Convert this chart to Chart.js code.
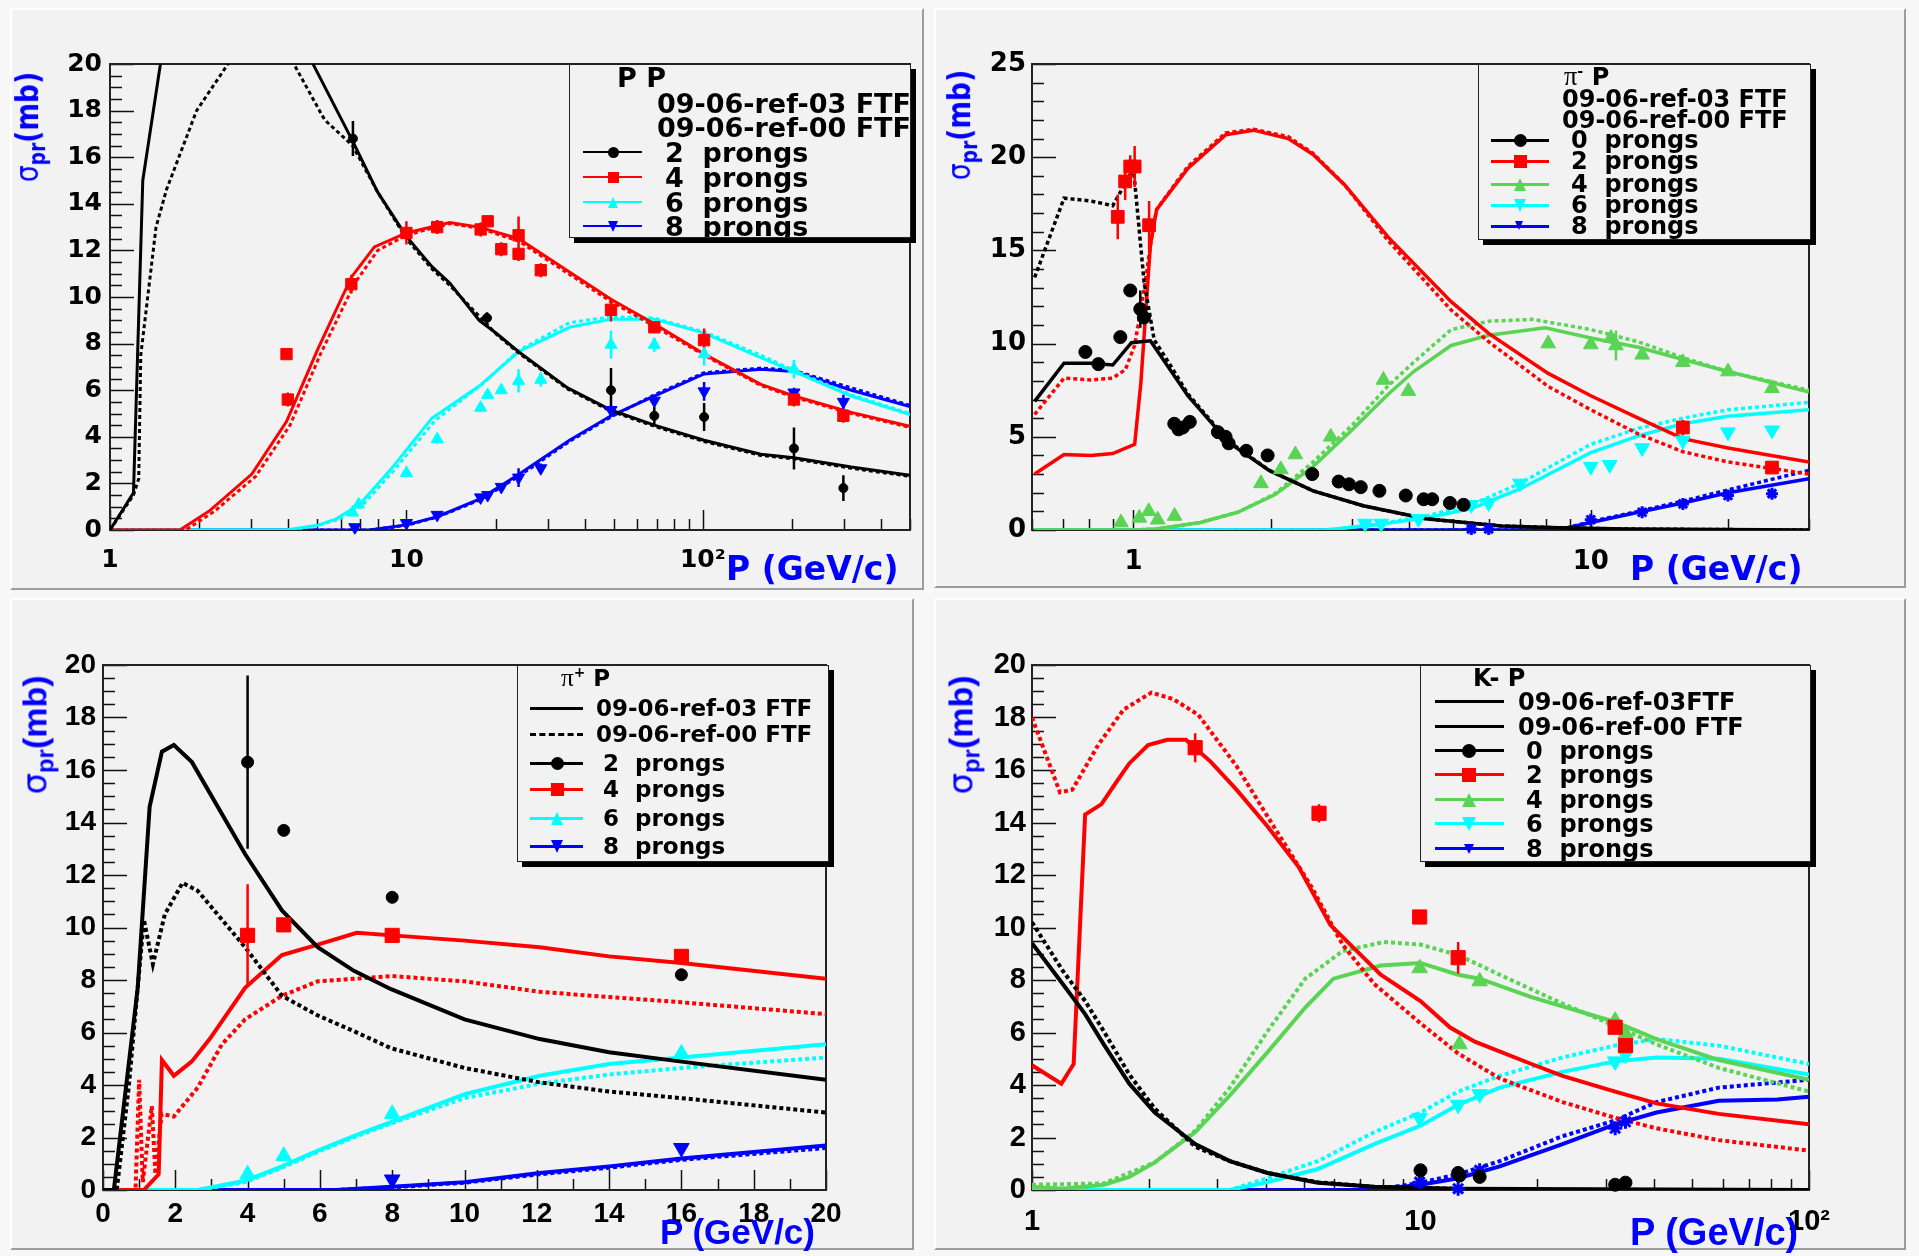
<!DOCTYPE html>
<html>
<head>
<meta charset="utf-8">
<script src="https://cdn.jsdelivr.net/npm/chart.js@4.4.1/dist/chart.umd.min.js"></script>
<style>
body { margin:0; width:1919px; height:1256px; background:#f7f7f7; position:relative; overflow:hidden; }
.pad { position:absolute; background:#f2f2f2; box-sizing:border-box;
       border-top:2px solid #fff; border-left:2px solid #fff; border-right:2px solid #9c9c9c; border-bottom:2px solid #9c9c9c; }
canvas { position:absolute; }
.leg { position:absolute; background:#f2f2f2; border:1.5px solid #222; box-shadow:5px 5px 0 #000; box-sizing:border-box; overflow:hidden; }
.txt { position:absolute; white-space:pre; line-height:1; transform:translateY(-50%); font-weight:bold; color:#000; }
.ytitle { position:absolute; color:#0000ff; white-space:pre; font-weight:bold; line-height:1; }
.xtitle { position:absolute; color:#0000ff; white-space:pre; font-weight:bold; line-height:1; transform:translateY(-50%); }
</style>
</head>
<body>
<script>
// ---------- P P (top left) : [P, sigma, err] ----------
const ppPts2 = [[6.6,16.8,0.75],[18.7,9.1,0.25],[49,6.0,0.95],[68.6,4.9,0.4],[101,4.85,0.6],[203,3.5,0.9],[298,1.8,0.55]];
const ppPts4 = [[3.94,7.55,0.15],[3.98,5.6,0.3],[6.52,10.55,0.4],[10,12.75,0.5],[12.7,13.0,0.3],[17.8,12.9,0.3],[18.8,13.25,0.2],
                [20.9,12.05,0.3],[23.9,12.65,0.8],[23.9,11.85,0.3],[28.4,11.15,0.3],[49,9.45,0.5],[68.6,8.7,0.2],[101,8.15,0.5],[203,5.6,0.3],[298,4.9,0.3]];
const ppPts6 = [[6.58,0.75,0],[6.9,1.1,0],[10,2.45,0],[12.7,3.9,0.2],[17.8,5.25,0.2],[18.8,5.8,0],[20.9,6.0,0.1],[23.9,6.4,0.5],
                [28.4,6.45,0.3],[49,7.95,0.6],[68.6,7.95,0.3],[101,7.55,0.5],[203,6.9,0.4]];
const ppPts8 = [[6.7,0.12,0],[10,0.3,0.1],[12.7,0.65,0],[17.8,1.4,0.1],[18.8,1.5,0.1],[20.9,1.85,0.1],[23.9,2.25,0.4],[28.4,2.65,0.2],
                [49,5.15,0.2],[68.6,5.55,0.2],[101,5.95,0.4],[203,5.9,0.2],[298,5.5,0.3]];
const ppA2 = [[1,0],[1.2,1.6],[1.29,15],[1.5,20.5],[2,26],[3,27],[4,23],[4.84,20],[6.58,16.7],[8,14.5],[10,12.6],[12.2,11.3],[14,10.6],
              [17.6,9.0],[20.3,8.4],[23.9,7.65],[35,6.1],[49,5.15],[68.6,4.5],[101,3.85],[157,3.25],[203,3.1],[317,2.7],[500,2.35]];
const ppB2 = [[1,0],[1.2,1.5],[1.25,2.2],[1.27,7.5],[1.43,13],[1.55,14.6],[1.96,18],[2.5,20],[3,22],[3.8,21.5],[4.17,20],[5.3,17.6],
              [6.58,16.5],[8,14.5],[10,12.5],[12.2,11.2],[14,10.5],[20.3,8.35],[23.9,7.6],[35,6.05],[49,5.1],[68.6,4.45],[101,3.8],[157,3.2],[203,3.05],[317,2.65],[500,2.3]];
const ppA4 = [[1,0],[1.72,0],[2.17,0.83],[3.01,2.4],[3.94,4.65],[5.02,7.75],[6.52,10.85],[7.8,12.15],[10,12.75],[14,13.2],[17.6,13.0],
              [23.9,12.5],[49,9.9],[68.6,8.85],[101,7.55],[157,6.25],[203,5.75],[317,5.05],[500,4.45]];
const ppB4 = [[1,0],[1.8,0],[2.25,0.8],[3.1,2.3],[4.05,4.5],[5.15,7.6],[6.7,10.6],[8,12],[10,12.65],[14,13.15],[17.6,12.95],
              [23.9,12.4],[49,9.8],[68.6,8.75],[101,7.5],[157,6.2],[203,5.7],[317,5.0],[500,4.4]];
const ppA6 = [[1,0],[3.94,0],[5.0,0.2],[5.8,0.48],[6.96,1.1],[8.8,2.56],[12.2,4.8],[17.7,6.2],[23.9,7.65],[35.5,8.7],[49,9.05],
              [68.6,9.05],[101,8.45],[157,7.4],[203,6.8],[317,5.75],[500,4.95]];
const ppB6 = [[1,0],[4,0],[5.0,0.18],[5.9,0.45],[7.1,1.05],[9,2.5],[12.5,4.7],[18,6.25],[23.9,7.7],[35.5,8.9],[49,9.15],
              [68.6,9.1],[101,8.5],[157,7.5],[203,6.85],[317,5.8],[500,5.0]];
const ppA8 = [[1,0],[7.5,0],[10,0.22],[12.7,0.57],[17.8,1.35],[23.9,2.38],[35.5,3.85],[49,4.9],[68.6,5.75],[101,6.7],[157,6.9],[203,6.8],[317,6.0],[500,5.3]];
const ppB8 = [[1,0],[7.5,0],[10,0.2],[12.7,0.55],[17.8,1.3],[23.9,2.3],[35.5,3.8],[49,4.85],[68.6,5.8],[101,6.75],[157,6.95],[203,6.85],[317,6.1],[500,5.35]];

// ---------- pi- P (top right) ----------
const pmPts0 = [[0.785,9.55,0.2],[0.838,8.9,0.2],[0.936,10.35,0.25],[0.984,12.85,0.3],[1.035,11.85,1.0],[1.054,11.4,0.3],[1.228,5.7,0.2],
                [1.255,5.4,0.3],[1.283,5.5,0.2],[1.328,5.8,0.2],[1.53,5.25,0.2],[1.59,5.0,0.2],[1.615,4.65,0.2],[1.765,4.25,0.1],[1.965,4.0,0.1],
                [2.46,3.0,0.1],[2.81,2.6,0.1],[2.96,2.45,0.1],[3.14,2.3,0.1],[3.45,2.1,0.1],[3.94,1.85,0.1],[4.31,1.65,0.1],[4.5,1.65,0.1],[4.92,1.45,0.1],[5.27,1.35,0.1]];
const pmPts2 = [[0.924,16.8,1.2],[0.959,18.7,1.0],[0.984,19.5,0.6],[1.006,19.5,1.1],[1.082,16.35,1.3],[15.9,5.5,0.4],[24.9,3.35,0.1]];
const pmPts4 = [[0.939,0.4,0],[1.03,0.65,0],[1.08,1.0,0],[1.13,0.55,0],[1.23,0.75,0],[1.9,2.5,0],[2.1,3.25,0],[2.26,4.05,0],[2.7,5.0,0],
                [3.52,8.05,0],[3.99,7.45,0],[8.07,10.0,0],[10,9.95,0],[11.07,10.3,0.3],[11.35,9.9,0.8],[12.95,9.4,0],[15.9,9.0,0],[19.95,8.5,0],[24.9,7.6,0]];
const pmPts6 = [[3.21,0.35,0],[3.48,0.35,0],[4.2,0.6,0],[5.48,1.35,0],[5.98,1.45,0],[7.0,2.5,0],[10,3.4,0],[11,3.5,0],[12.95,4.4,0],
                [15.9,4.8,0.4],[19.95,5.25,0],[24.9,5.35,0]];
const pmPts8 = [[5.48,0.05,0],[5.98,0.05,0],[10,0.55,0],[12.95,0.95,0],[15.9,1.4,0],[19.95,1.85,0],[24.9,1.95,0]];
const pmA0 = [[0.608,6.9],[0.705,8.95],[0.807,8.95],[0.901,8.85],[0.99,10.05],[1.089,10.15],[1.315,7.2],[1.615,4.7],[1.98,3.2],
              [2.47,2.1],[3.18,1.3],[4.36,0.6],[6.37,0.22],[8.5,0.12],[12,0.05],[30,0]];
const pmB0 = [[0.608,13.55],[0.705,17.8],[0.807,17.65],[0.901,17.4],[0.945,18.3],[1.0,19.4],[1.055,13.3],[1.11,10.2],[1.2,8.9],
              [1.315,7.3],[1.615,4.75],[1.98,3.2],[2.47,2.1],[3.18,1.3],[4.36,0.6],[6.37,0.22],[8.5,0.12],[12,0.05],[30,0]];
const pmA2 = [[0.608,3.0],[0.705,4.05],[0.807,4.0],[0.901,4.1],[1.006,4.6],[1.038,7.9],[1.089,15.3],[1.124,17.2],[1.315,19.4],[1.59,21.2],
              [1.83,21.45],[2.18,21.0],[2.47,20.15],[2.9,18.5],[3.61,15.7],[4.95,12.25],[5.98,10.55],[8.07,8.4],[10,7.2],[12.7,6.0],[15.9,4.9],[19.95,4.4],[30,3.65]];
const pmB2 = [[0.608,6.2],[0.705,8.15],[0.807,8.05],[0.901,8.15],[0.96,8.6],[1.006,9.9],[1.055,12.9],[1.106,16.35],[1.124,17.2],[1.315,19.5],
              [1.59,21.3],[1.83,21.5],[2.18,21.1],[2.47,20.2],[2.9,18.5],[3.61,15.5],[4.95,11.8],[5.98,10.1],[8.07,7.7],[10,6.45],[12.7,5.15],
              [15.9,4.2],[19.95,3.65],[24.9,3.3],[30,3.0]];
const pmA4 = [[0.608,0],[1.0,0],[1.12,0.06],[1.4,0.4],[1.69,0.95],[2.04,1.9],[2.47,3.4],[3.0,5.35],[3.61,7.3],[4.1,8.5],[4.95,9.9],
              [5.98,10.45],[7.95,10.85],[10,10.3],[12.7,9.8],[15.9,9.15],[19.95,8.5],[30,7.4]];
const pmB4 = [[0.608,0],[1.0,0],[1.12,0.06],[1.4,0.4],[1.69,0.95],[2.04,1.95],[2.47,3.65],[3.0,5.6],[3.61,7.75],[4.1,9.0],[4.95,10.75],
              [5.98,11.2],[7.47,11.3],[10,10.75],[12.7,10.1],[15.9,9.25],[19.95,8.5],[30,7.5]];
const pmA6 = [[0.608,0],[2.63,0],[3.4,0.28],[4.36,0.65],[5.48,1.15],[7.0,2.2],[10,4.15],[12.7,5.05],[15.9,5.7],[19.95,6.1],[30,6.45]];
const pmB6 = [[0.608,0],[2.63,0],[3.4,0.3],[4.36,0.75],[5.48,1.35],[7.0,2.5],[10,4.6],[12.7,5.45],[15.9,6.0],[19.95,6.45],[30,6.85]];
const pmA8 = [[0.608,0],[8.5,0],[10,0.4],[12.7,0.95],[15.9,1.45],[19.95,2.0],[30,2.75]];
const pmB8 = [[0.608,0],[8.5,0],[10,0.45],[12.7,1.0],[15.9,1.55],[19.95,2.15],[30,3.2]];

// ---------- pi+ P (bottom left) ----------
const ipPts2 = [[4,16.3,3.3],[5,13.7,0.2],[8,11.15,0.2],[16,8.2,0.2]];
const ipPts4 = [[4,9.7,1.95],[5,10.1,0.2],[8,9.7,0.2],[16,8.9,0.25]];
const ipPts6 = [[4,0.6,0.1],[5,1.3,0.1],[8,2.9,0.1],[16,5.2,0.1]];
const ipPts8 = [[8,0.4,0],[16,1.6,0]];
const ipA2 = [[0,0],[0.3,0],[0.96,7.7],[1.29,14.6],[1.63,16.7],[1.96,16.95],[2.46,16.3],[3.93,12.8],[4.95,10.65],[5.94,9.25],
              [6.94,8.35],[7.97,7.65],[10,6.5],[12.08,5.75],[14,5.25],[15.95,4.9],[20,4.2]];
const ipB2 = [[0,0],[0.38,0],[0.71,3.9],[1.13,10.3],[1.38,8.6],[1.71,10.5],[2.2,11.7],[2.62,11.4],[3.93,9.25],[4.95,7.4],[5.94,6.65],
              [6.94,6.05],[7.97,5.4],[10,4.65],[12.08,4.1],[14,3.75],[16,3.5],[20,2.95]];
const ipA4 = [[0,0],[1.13,0],[1.54,0.6],[1.63,4.95],[1.96,4.35],[2.46,4.9],[2.95,5.75],[3.93,7.7],[4.95,8.95],[5.94,9.35],[7.02,9.8],
              [8,9.7],[10,9.5],[12.08,9.25],[14,8.9],[16,8.65],[20,8.05]];
const ipB4 = [[0,0],[0.9,0],[1.0,4.2],[1.1,0.3],[1.35,3.2],[1.45,0.6],[1.62,2.9],[1.96,2.8],[2.62,3.9],[3.29,5.55],[3.93,6.5],[4.95,7.4],
              [5.94,7.95],[7.02,8.05],[8,8.15],[10,7.95],[12.08,7.55],[14,7.35],[16,7.15],[20,6.7]];
const ipA6 = [[0,0],[2.62,0],[3.93,0.35],[4.95,0.9],[5.94,1.5],[7.02,2.1],[8,2.6],[10,3.65],[12.08,4.35],[14,4.8],[16,5.05],[20,5.55]];
const ipB6 = [[0,0],[2.62,0],[3.93,0.3],[4.95,0.85],[5.94,1.45],[7.02,2.05],[8,2.55],[10,3.5],[12.08,4.05],[14,4.4],[16,4.65],[20,5.05]];
const ipA8 = [[0,0],[6.44,0],[8,0.12],[10,0.3],[12.08,0.65],[14,0.9],[16,1.2],[20,1.7]];
const ipB8 = [[0,0],[6.44,0],[8,0.1],[10,0.28],[12.08,0.6],[14,0.85],[16,1.15],[20,1.6]];

// ---------- K- P (bottom right) ----------
const kmPts0 = [[10,0.75,0.1],[12.5,0.65,0.1],[12.6,0.55,0.1],[14.2,0.5,0.1],[31.7,0.2,0.05],[33.7,0.28,0.05]];
const kmPts2 = [[2.63,16.85,0.55],[5.48,14.35,0.35],[9.95,10.4,0.25],[12.5,8.85,0.6],[31.7,6.2,0.1],[33.7,5.5,0.1]];
const kmPts4 = [[9.95,8.45,0],[12.6,5.55,0],[14.2,7.95,0],[31.7,6.45,0],[33.7,5.95,0]];
const kmPts6 = [[9.95,2.75,0.1],[12.5,3.25,0.1],[14.2,3.65,0.1],[31.7,4.9,0.1],[33.7,5.15,0.1]];
const kmPts8 = [[9.95,0.3,0.2],[12.5,0.05,0.1],[14.2,0.75,0.1],[31.7,2.35,0.15],[33.7,2.6,0.1]];
const kmA0 = [[1,9.4],[1.2,7.85],[1.37,6.7],[1.53,5.55],[1.78,4.05],[2.07,2.95],[2.63,1.75],[3.23,1.1],[4.04,0.65],[5.44,0.28],[7.6,0.12],[12.3,0.05],[100,0]];
const kmB0 = [[1,10.2],[1.2,8.35],[1.37,7.2],[1.53,6.05],[1.78,4.4],[2.07,3.1],[2.63,1.65],[3.23,1.1],[4.04,0.65],[5.44,0.3],[7.6,0.12],[12.3,0.05],[17,0]];
const kmA2 = [[1,4.75],[1.19,4.05],[1.28,4.8],[1.37,14.3],[1.51,14.7],[1.65,15.55],[1.78,16.25],[1.99,16.95],[2.23,17.15],[2.49,17.15],
              [2.89,16.3],[3.36,15.25],[4.04,13.85],[4.86,12.3],[5.86,10.1],[7.9,8.2],[10,7.2],[11.9,6.2],[13.8,5.65],[19.3,4.8],[23.2,4.35],
              [31.7,3.75],[40.5,3.3],[58.6,2.9],[100,2.5]];
const kmB2 = [[1,18.0],[1.18,15.15],[1.27,15.25],[1.48,16.95],[1.72,18.3],[2.03,18.95],[2.31,18.7],[2.68,18.1],[3.36,16.15],[4.19,13.85],
              [5.24,11.55],[6.3,9.35],[7.6,7.85],[10,6.35],[12.5,5.2],[16,4.25],[23.2,3.35],[31.7,2.75],[40.5,2.35],[58.6,1.9],[100,1.5]];
const kmA4 = [[1,0.12],[1.2,0.05],[1.53,0.2],[1.78,0.5],[2.07,1.05],[2.63,2.2],[3.23,3.6],[4.04,5.25],[5.05,6.95],[5.97,8.05],[7.9,8.55],
              [10,8.65],[12.5,8.2],[14.2,8.05],[19.3,7.35],[31.7,6.4],[40.5,5.75],[58.6,4.95],[100,4.2]];
const kmB4 = [[1,0.2],[1.53,0.25],[2.07,1.05],[2.63,2.25],[3.23,3.9],[4.04,6.05],[5.05,8.05],[6.3,9.1],[8.05,9.45],[10,9.35],[12.5,8.95],
              [16,8.2],[23.2,7.1],[31.7,6.25],[40.5,5.55],[58.6,4.65],[100,3.75]];
const kmA6 = [[1,0],[3.23,0],[4.04,0.3],[5.44,0.8],[7.6,1.75],[10,2.45],[12.5,3.25],[16,3.9],[23.2,4.5],[31.7,4.9],[40.5,5.05],[58.6,5.0],[100,4.4]];
const kmB6 = [[1,0],[3.23,0],[4.04,0.45],[5.44,1.1],[7.6,2.2],[10,2.95],[12.5,3.75],[16,4.35],[23.2,5.05],[31.7,5.5],[40.5,5.75],[58.6,5.5],[100,4.8]];
const kmA8 = [[1,0],[7.6,0],[10,0.2],[12.5,0.45],[16,0.9],[23.2,1.75],[31.7,2.5],[40.5,2.95],[58.6,3.4],[83,3.45],[100,3.55]];
const kmB8 = [[1,0],[7.6,0],[10,0.28],[12.5,0.6],[16,1.1],[23.2,2.05],[31.7,2.65],[40.5,3.35],[58.6,3.9],[100,4.2]];

const BLACK = '#000000', RED = '#ff0000', CYAN = '#00ffff', BLUE = '#0000ff', GREEN = 'rgb(89,212,84)';

// ROOT-like frame with inward ticks
const rootAxes = {
  id: 'rootAxes',
  beforeDatasetsDraw(chart, args, o) {
    const { ctx, chartArea: a, scales: { x, y } } = chart;
    ctx.save();
    ctx.strokeStyle = '#111';
    ctx.lineWidth = 1.5;
    ctx.beginPath();
    for (let i = 0; ; i++) {
      const v = y.min + i * o.yMinor;
      if (v > y.max + 1e-9) break;
      const py = Math.round(y.getPixelForValue(v)) + 0.5;
      const maj = Math.abs(v / o.yMajor - Math.round(v / o.yMajor)) < 1e-6;
      ctx.moveTo(a.left, py); ctx.lineTo(a.left + (maj ? 24 : 12), py);
    }
    if (x.type === 'logarithmic') {
      for (let d = Math.floor(Math.log10(x.min)); d <= Math.ceil(Math.log10(x.max)); d++) {
        for (let k = 1; k < 10; k++) {
          const v = k * Math.pow(10, d);
          if (v < x.min - 1e-9 || v > x.max + 1e-9) continue;
          const px = Math.round(x.getPixelForValue(v)) + 0.5;
          ctx.moveTo(px, a.bottom); ctx.lineTo(px, a.bottom - (k === 1 ? 20 : 11));
        }
      }
    } else {
      for (let i = 0; ; i++) {
        const v = x.min + i * o.xMinor;
        if (v > x.max + 1e-9) break;
        const px = Math.round(x.getPixelForValue(v)) + 0.5;
        const maj = Math.abs(v / o.xMajor - Math.round(v / o.xMajor)) < 1e-6;
        ctx.moveTo(px, a.bottom); ctx.lineTo(px, a.bottom - (maj ? 20 : 11));
      }
    }
    ctx.stroke();
    ctx.lineWidth = 2;
    ctx.strokeStyle = '#222';
    ctx.strokeRect(a.left, a.top, a.right - a.left, a.bottom - a.top);
    ctx.restore();
  }
};
Chart.register(rootAxes);

function xy(a) { return a.map(p => ({ x: p[0], y: p[1] })); }
function errSegs(a) {
  const out = [];
  a.forEach(p => { if (p[2] > 0) out.push({ x: p[0], y: p[1] - p[2] }, { x: p[0], y: p[1] + p[2] }, { x: p[0], y: null }); });
  return out;
}

function markerDiv(style, color, size, cx, cy) {
  const d = document.createElement('div');
  d.style.position = 'absolute';
  const h = size / 2;
  if (style === 'circle' || style === 'rect') {
    d.style.cssText += `left:${cx - h}px;top:${cy - h}px;width:${size}px;height:${size}px;background:${color};` + (style === 'circle' ? 'border-radius:50%;' : '');
  } else {
    const up = style === 'tri';
    const s = style === 'star' ? size * 0.75 : size;
    d.style.cssText += `left:${cx - s / 2}px;top:${cy - s / 2}px;width:0;height:0;border-left:${s / 2}px solid transparent;border-right:${s / 2}px solid transparent;` +
      (up ? `border-bottom:${s}px solid ${color};` : `border-top:${s}px solid ${color};`);
  }
  return d;
}

function makePanel(p) {
  const pad = document.createElement('div');
  pad.className = 'pad';
  Object.assign(pad.style, { left: p.box[0] + 'px', top: p.box[1] + 'px', width: p.box[2] + 'px', height: p.box[3] + 'px' });
  document.body.appendChild(pad);

  const cv = document.createElement('canvas');
  cv.width = p.box[2]; cv.height = p.box[3];
  cv.style.left = p.box[0] + 'px'; cv.style.top = p.box[1] + 'px';
  document.body.appendChild(cv);

  const [L, T, R, B] = p.area;
  const YW = 60, XH = 40;
  const padding = { left: L - p.box[0] - YW, top: T - p.box[1], right: p.box[0] + p.box[2] - R, bottom: p.box[1] + p.box[3] - B - XH };

  const styles = { circle: ['circle', 0], rect: ['rect', 0], tri: ['triangle', 0], itri: ['triangle', 180], star: ['star', 0] };
  const datasets = [];
  p.series.forEach(s => {
    const st = styles[s.marker];
    datasets.push({ data: xy(s.pts), showLine: false, pointStyle: st[0], pointRotation: st[1], pointRadius: s.r,
      backgroundColor: s.color, borderColor: s.color, borderWidth: s.marker === 'star' ? 3 : 1, order: 0, clip: false });
    datasets.push({ data: errSegs(s.pts), showLine: true, pointRadius: 0, borderColor: s.color, borderWidth: 2.5, order: 1, spanGaps: false });
    datasets.push({ data: xy(s.a), showLine: true, pointRadius: 0, borderColor: s.color, borderWidth: p.lw, tension: 0, order: 2 });
    datasets.push({ data: xy(s.b), showLine: true, pointRadius: 0, borderColor: s.color, borderWidth: p.lw, borderDash: [4, 3], tension: 0, order: 2 });
  });

  const tickFont = { family: p.family, size: p.tick, weight: 'bold' };
  new Chart(cv, {
    type: 'scatter',
    data: { datasets },
    options: {
      responsive: false, animation: false, devicePixelRatio: 1, events: [],
      layout: { padding },
      plugins: { legend: { display: false }, tooltip: { enabled: false },
        rootAxes: { yMajor: p.yMajor, yMinor: p.yMinor, xMajor: p.xMajor, xMinor: p.xMinor } },
      scales: {
        x: {
          type: p.xType, min: p.xMin, max: p.xMax,
          afterFit: s => { s.height = XH; },
          afterBuildTicks: s => { s.ticks = p.xTicks.map(v => ({ value: v })); },
          ticks: { font: tickFont, color: '#000', padding: p.xpad, maxRotation: 0, autoSkip: false,
                   callback: v => (v === 100 ? '10²' : String(v)) },
          grid: { display: false, drawTicks: false }, border: { display: false }
        },
        y: {
          type: 'linear', min: 0, max: p.yMax,
          afterFit: s => { s.width = YW; },
          afterBuildTicks: s => { const t = []; for (let v = 0; v <= p.yMax; v += p.yMajor) t.push({ value: v }); s.ticks = t; },
          ticks: { font: tickFont, color: '#000', padding: p.ypad, autoSkip: false, callback: v => String(v) },
          grid: { display: false, drawTicks: false }, border: { display: false }
        }
      }
    }
  });

  // axis titles
  const yt = document.createElement('div');
  yt.className = 'ytitle';
  yt.style.left = p.yTitle[0] + 'px'; yt.style.top = p.yTitle[1] + 'px';
  yt.style.font = `bold ${p.yTitle[2]}px '${p.family}'`;
  yt.style.transform = `translate(-50%,-50%) rotate(-90deg) scaleX(${p.yTitle[3]})`;
  yt.innerHTML = '<span style="font-weight:normal;font-family:\'DejaVu Sans\'">σ</span><sub style="font-size:0.7em;vertical-align:-0.3em">pr</sub>(mb)';
  document.body.appendChild(yt);

  const xt = document.createElement('div');
  xt.className = 'xtitle';
  xt.style.left = p.xTitle[0] + 'px'; xt.style.top = p.xTitle[1] + 'px';
  xt.style.font = `bold ${p.xTitle[2]}px '${p.family}'`;
  xt.textContent = 'P (GeV/c)';
  document.body.appendChild(xt);

  // legend
  const lg = p.legend;
  const [l, t, r, b] = lg.box;
  const box = document.createElement('div');
  box.className = 'leg';
  Object.assign(box.style, { left: l + 'px', top: t + 'px', width: (r - l) + 'px', height: (b - t) + 'px' });
  document.body.appendChild(box);
  lg.rows.forEach(row => {
    if (row.line) {
      const ln = document.createElement('div');
      ln.style.cssText = `position:absolute;left:${lg.line[0] - l}px;top:${row.y - t - lg.lw / 2}px;width:${lg.line[1] - lg.line[0]}px;height:0;` +
        `border-top:${lg.lw}px ${row.dash ? 'dashed' : 'solid'} ${row.color}`;
      box.appendChild(ln);
    }
    if (row.marker) box.appendChild(markerDiv(row.marker, row.color, lg.msize, lg.mx - l, row.y - t));
    const s = document.createElement('div');
    s.className = 'txt';
    s.style.left = (row.tx - l) + 'px'; s.style.top = (row.y - t) + 'px';
    s.style.font = `bold ${lg.size}px 'DejaVu Sans'`;
    s.innerHTML = row.text;
    box.appendChild(s);
  });
}

const PI = '<span style="font-family:\'Liberation Serif\';font-weight:normal;font-size:1.1em">π</span>';

makePanel({
  box: [10, 8, 914, 582], area: [110, 64, 910, 530],
  xType: 'logarithmic', xMin: 1, xMax: 500, xTicks: [1, 10, 100],
  yMax: 20, yMajor: 2, yMinor: 0.5,
  family: 'DejaVu Sans', tick: 25, xpad: 15, ypad: 8, lw: 3,
  yTitle: [29, 127, 32, 0.83], xTitle: [726, 568, 33],
  series: [
    { pts: ppPts2, a: ppA2, b: ppB2, color: BLACK, marker: 'circle', r: 4.5 },
    { pts: ppPts4, a: ppA4, b: ppB4, color: RED, marker: 'rect', r: 8 },
    { pts: ppPts6, a: ppA6, b: ppB6, color: CYAN, marker: 'tri', r: 7 },
    { pts: ppPts8, a: ppA8, b: ppB8, color: BLUE, marker: 'itri', r: 7 }
  ],
  legend: {
    box: [569, 64, 911, 238], size: 27, line: [582, 641], lw: 2, mx: 612, msize: 11,
    rows: [
      { y: 76, tx: 616, text: 'P P' },
      { y: 102, tx: 656, text: '09-06-ref-03 FTF' },
      { y: 126, tx: 656, text: '09-06-ref-00 FTF' },
      { y: 151, tx: 664, text: '2  prongs', line: true, color: BLACK, marker: 'circle' },
      { y: 176, tx: 664, text: '4  prongs', line: true, color: RED, marker: 'rect' },
      { y: 201, tx: 664, text: '6  prongs', line: true, color: CYAN, marker: 'tri' },
      { y: 225, tx: 664, text: '8  prongs', line: true, color: BLUE, marker: 'itri' }
    ]
  }
});

makePanel({
  box: [934, 8, 972, 580], area: [1032, 64, 1809, 530],
  xType: 'logarithmic', xMin: 0.6, xMax: 30, xTicks: [1, 10],
  yMax: 25, yMajor: 5, yMinor: 1,
  family: 'DejaVu Sans', tick: 26, xpad: 17, ypad: 6, lw: 3.5,
  yTitle: [961, 125, 32, 0.83], xTitle: [1630, 568, 33],
  series: [
    { pts: pmPts0, a: pmA0, b: pmB0, color: BLACK, marker: 'circle', r: 6.5 },
    { pts: pmPts2, a: pmA2, b: pmB2, color: RED, marker: 'rect', r: 9 },
    { pts: pmPts4, a: pmA4, b: pmB4, color: GREEN, marker: 'tri', r: 8.5 },
    { pts: pmPts6, a: pmA6, b: pmB6, color: CYAN, marker: 'itri', r: 8.5 },
    { pts: pmPts8, a: pmA8, b: pmB8, color: BLUE, marker: 'star', r: 6 }
  ],
  legend: {
    box: [1478, 64, 1811, 240], size: 24, line: [1490, 1548], lw: 3, mx: 1519, msize: 13,
    rows: [
      { y: 75, tx: 1563, text: PI + '<sup style="font-size:0.6em">-</sup> P' },
      { y: 98, tx: 1561, text: '09-06-ref-03 FTF' },
      { y: 119, tx: 1561, text: '09-06-ref-00 FTF' },
      { y: 139, tx: 1570, text: '0  prongs', line: true, color: BLACK, marker: 'circle' },
      { y: 160, tx: 1570, text: '2  prongs', line: true, color: RED, marker: 'rect' },
      { y: 183, tx: 1570, text: '4  prongs', line: true, color: GREEN, marker: 'tri' },
      { y: 204, tx: 1570, text: '6  prongs', line: true, color: CYAN, marker: 'itri' },
      { y: 225, tx: 1570, text: '8  prongs', line: true, color: BLUE, marker: 'star' }
    ]
  }
});

makePanel({
  box: [10, 598, 904, 652], area: [103, 665, 826, 1190],
  xType: 'linear', xMin: 0, xMax: 20, xTicks: [0, 2, 4, 6, 8, 10, 12, 14, 16, 18, 20], xMajor: 2, xMinor: 1,
  yMax: 20, yMajor: 2, yMinor: 0.5,
  family: 'Liberation Sans', tick: 28, xpad: 7, ypad: 7, lw: 4,
  yTitle: [37, 735, 34, 1], xTitle: [660, 1232, 35],
  series: [
    { pts: ipPts2, a: ipA2, b: ipB2, color: BLACK, marker: 'circle', r: 6 },
    { pts: ipPts4, a: ipA4, b: ipB4, color: RED, marker: 'rect', r: 10 },
    { pts: ipPts6, a: ipA6, b: ipB6, color: CYAN, marker: 'tri', r: 9 },
    { pts: ipPts8, a: ipA8, b: ipB8, color: BLUE, marker: 'itri', r: 9 }
  ],
  legend: {
    box: [517, 665, 829, 862], size: 23, line: [529, 582], lw: 3, mx: 556, msize: 13,
    rows: [
      { y: 676, tx: 560, text: PI + '<sup style="font-size:0.6em">+</sup> P' },
      { y: 707, tx: 595, text: '09-06-ref-03 FTF', line: true, color: BLACK },
      { y: 733, tx: 595, text: '09-06-ref-00 FTF', line: true, color: BLACK, dash: true },
      { y: 762, tx: 602, text: '2  prongs', line: true, color: BLACK, marker: 'circle' },
      { y: 788, tx: 602, text: '4  prongs', line: true, color: RED, marker: 'rect' },
      { y: 817, tx: 602, text: '6  prongs', line: true, color: CYAN, marker: 'tri' },
      { y: 845, tx: 602, text: '8  prongs', line: true, color: BLUE, marker: 'itri' }
    ]
  }
});

makePanel({
  box: [934, 598, 972, 652], area: [1032, 665, 1809, 1190],
  xType: 'logarithmic', xMin: 1, xMax: 100, xTicks: [1, 10, 100],
  yMax: 20, yMajor: 2, yMinor: 0.5,
  family: 'Liberation Sans', tick: 29, xpad: 15, ypad: 6, lw: 4,
  yTitle: [963, 735, 34, 1], xTitle: [1630, 1232, 38],
  series: [
    { pts: kmPts0, a: kmA0, b: kmB0, color: BLACK, marker: 'circle', r: 6.5 },
    { pts: kmPts2, a: kmA2, b: kmB2, color: RED, marker: 'rect', r: 10 },
    { pts: kmPts4, a: kmA4, b: kmB4, color: GREEN, marker: 'tri', r: 9 },
    { pts: kmPts6, a: kmA6, b: kmB6, color: CYAN, marker: 'itri', r: 9 },
    { pts: kmPts8, a: kmA8, b: kmB8, color: BLUE, marker: 'star', r: 7 }
  ],
  legend: {
    box: [1420, 665, 1811, 862], size: 24, line: [1434, 1503], lw: 3.5, mx: 1468, msize: 14,
    rows: [
      { y: 677, tx: 1472, text: 'K- P' },
      { y: 701, tx: 1517, text: '09-06-ref-03FTF', line: true, color: BLACK },
      { y: 726, tx: 1517, text: '09-06-ref-00 FTF', line: true, color: BLACK },
      { y: 750, tx: 1525, text: '0  prongs', line: true, color: BLACK, marker: 'circle' },
      { y: 774, tx: 1525, text: '2  prongs', line: true, color: RED, marker: 'rect' },
      { y: 799, tx: 1525, text: '4  prongs', line: true, color: GREEN, marker: 'tri' },
      { y: 823, tx: 1525, text: '6  prongs', line: true, color: CYAN, marker: 'itri' },
      { y: 848, tx: 1525, text: '8  prongs', line: true, color: BLUE, marker: 'star' }
    ]
  }
});
</script>
</body>
</html>
